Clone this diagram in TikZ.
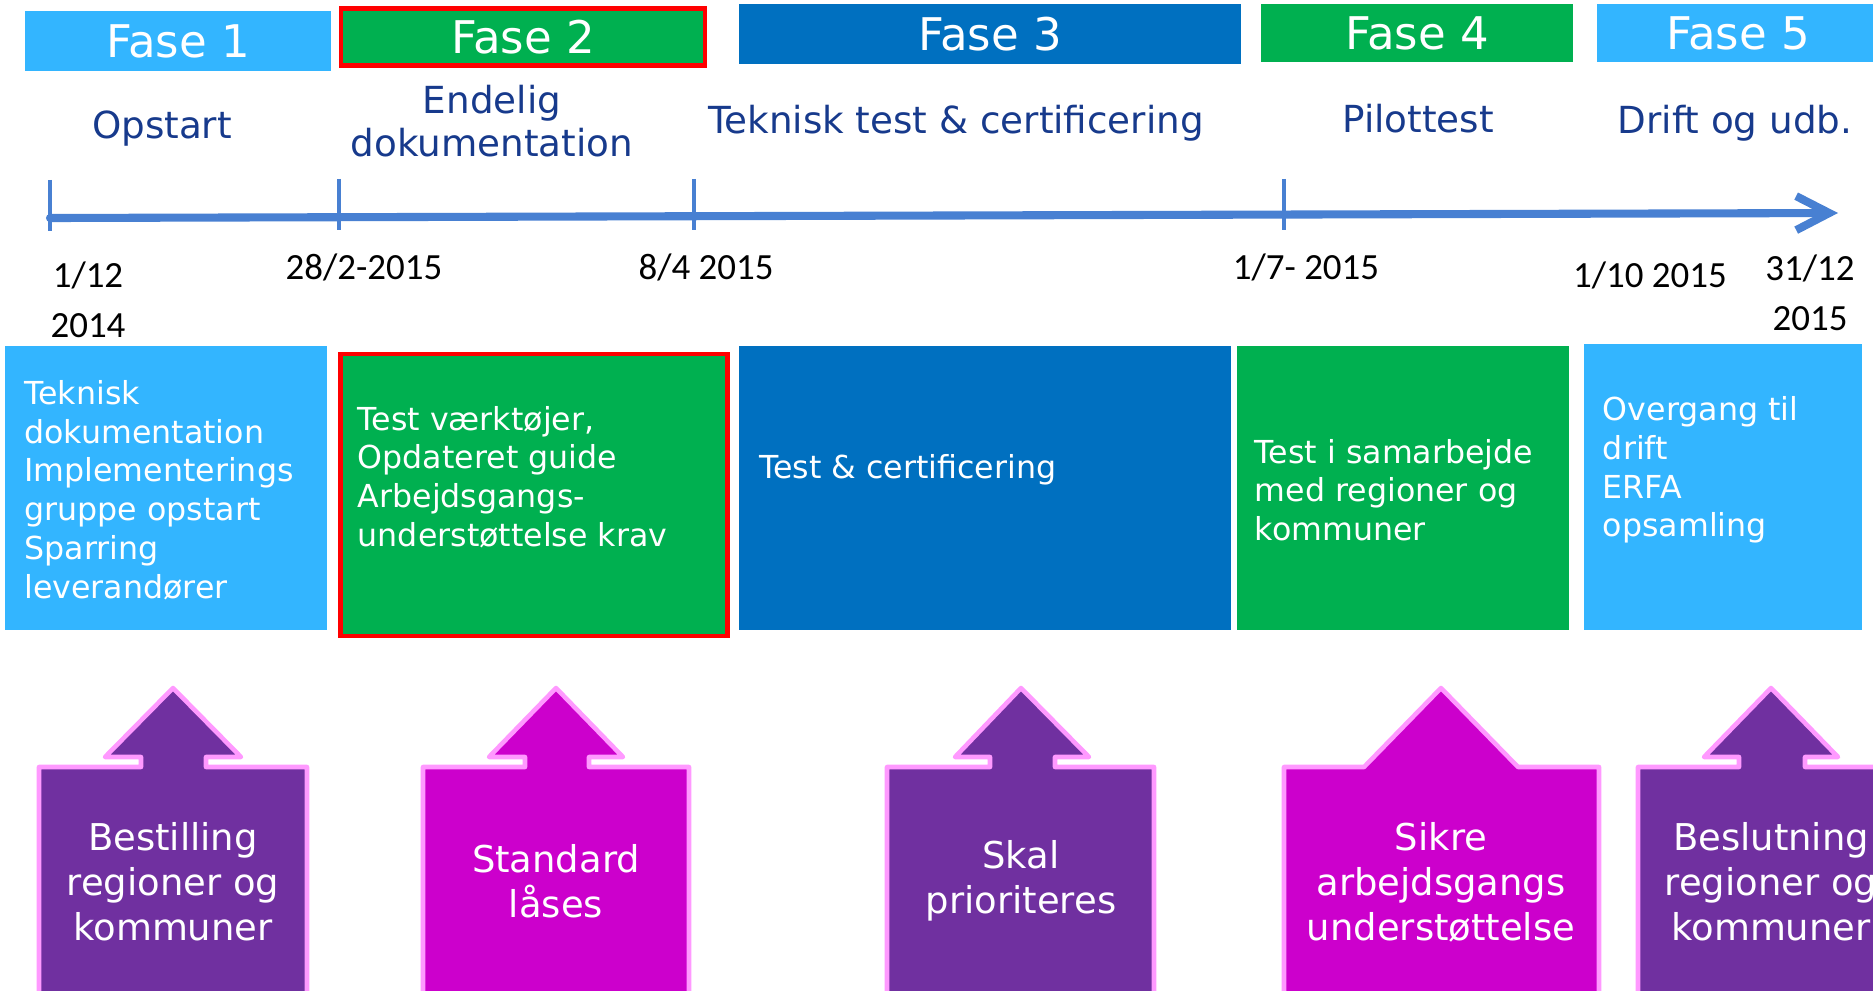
\documentclass[tikz,border=0pt]{standalone}
\usepackage{fontspec}
\setmainfont{DejaVu Sans}
\newfontfamily\datefont{Carlito}
\usetikzlibrary{arrows.meta}

\definecolor{lightblue}{RGB}{51,181,255}
\definecolor{fgreen}{RGB}{0,176,80}
\definecolor{darkblue}{RGB}{0,112,192}
\definecolor{navy}{RGB}{23,58,140}
\definecolor{axis}{RGB}{72,128,210}
\definecolor{purp}{RGB}{112,48,160}
\definecolor{magent}{RGB}{204,0,204}
\definecolor{pinkline}{RGB}{255,153,255}

\begin{document}
\begin{tikzpicture}[x=0.01cm, y=-0.01cm,
  fase/.style={minimum height=0.6cm, inner sep=0pt, text=white, font=\fontsize{12.8}{15}\selectfont},
  phase/.style={text=navy, align=center, font=\fontsize{10.6}{12.2}\selectfont},
  date/.style={align=center, font=\datefont\fontsize{10.5}{14.2}\selectfont},
  box/.style={minimum height=2.84cm, inner sep=0pt},
  boxtext/.style={anchor=west, align=left, text=white, inner sep=0pt, font=\fontsize{9}{11}\selectfont},
  upbox/.style={draw=pinkline, line width=1.3pt, line join=round},
  uptext/.style={align=center, text=white, font=\fontsize{10.5}{12.8}\selectfont},
  tick/.style={draw=axis, line width=1pt}]
\useasboundingbox (0,0) rectangle (1873,990);
\clip (0,0) rectangle (1873,990);
% Phases
\node[fase, fill=lightblue, minimum width=3.06cm] (f1) at (178,41) {Fase 1};
\node[fase, fill=fgreen, draw=red, line width=1.2pt, minimum width=3.64cm, minimum height=0.57cm] (f2) at (523,37) {Fase 2};
\node[fase, fill=darkblue, minimum width=5.01cm] (f3) at (990,34) {Fase 3};
\node[fase, fill=fgreen, minimum width=3.12cm, minimum height=0.58cm] (f4) at (1417,33) {Fase 4};
\node[fase, fill=lightblue, minimum width=2.82cm, minimum height=0.58cm] (f5) at (1738,33) {Fase 5};
\node[phase] (p1) at (162,129) {Opstart};
\node[phase] (p2) at (492,121) {Endelig\\dokumentation};
\node[phase] (p3) at (956,123) {Teknisk test \& certificering};
\node[phase] (p4) at (1418,119) {Pilottest};
\node[phase] (p5) at (1735,123) {Drift og udb.};
% Timeline
\coordinate (k1) at (50,218);
\coordinate (k2) at (339,217);
\coordinate (k3) at (694,216);
\coordinate (k4) at (1284,215);
\coordinate (kend) at (1838,213);
\draw[axis, line width=2.3pt, line cap=round, -{Straight Barb[length=3.3mm, width=3.4mm]}] (k1) -- (kend);
\draw[tick] ([yshift=0.38cm]k1) -- ([yshift=-0.13cm]k1);
\draw[tick] ([yshift=0.38cm]k2) -- ([yshift=-0.13cm]k2);
\draw[tick] ([yshift=0.37cm]k3) -- ([yshift=-0.14cm]k3);
\draw[tick] ([yshift=0.36cm]k4) -- ([yshift=-0.15cm]k4);
\node[date] (d1) at (88,300) {1/12\\2014};
\node[date] (d2) at (364,267) {28/2-2015};
\node[date] (d3) at (706,267) {8/4 2015};
\node[date] (d4) at (1306,267) {1/7- 2015};
\node[date] (d5) at (1650,275) {1/10 2015};
\node[date] (d6) at (1810,293) {31/12\\2015};
% Activities
\node[box, fill=lightblue, minimum width=3.21cm] (b1) at (166,488) {};
\node[box, fill=fgreen, draw=red, line width=1.3pt, minimum width=3.87cm, minimum height=2.82cm] (b2) at (534,495) {};
\node[box, fill=darkblue, minimum width=4.91cm] (b3) at (985,488) {};
\node[box, fill=fgreen, minimum width=3.32cm] (b4) at (1403,488) {};
\node[box, fill=lightblue, minimum width=2.78cm, minimum height=2.86cm] (b5) at (1723,487) {};
\node[boxtext] (t1) at ([xshift=0.19cm, yshift=-0.02cm]b1.west) {Teknisk\\dokumentation\\Implementerings\\gruppe opstart\\Sparring\\leverandører};
\node[boxtext] (t2) at ([xshift=0.19cm, yshift=0.18cm]b2.west) {Test værktøjer,\\Opdateret guide\\Arbejdsgangs-\\understøttelse krav};
\node[boxtext] (t3) at ([xshift=0.2cm, yshift=0.18cm]b3.west) {Test \& certificering};
\node[boxtext] (t4) at ([xshift=0.18cm, yshift=-0.02cm]b4.west) {Test i samarbejde\\med regioner og\\kommuner};
\node[boxtext] (t5) at ([xshift=0.19cm, yshift=0.17cm]b5.west) {Overgang til\\drift\\ERFA\\opsamling};
% Milestones
\filldraw[upbox, fill=purp] (39,1010) -- (39,767) -- (141,767) -- (141,757) -- (105,757) -- (173,688) -- (241,757) -- (206,757) -- (206,767) -- (307,767) -- (307,1010);
\filldraw[upbox, fill=magent] (423,1010) -- (423,767) -- (525,767) -- (525,757) -- (489,757) -- (556,688) -- (623,757) -- (589,757) -- (589,767) -- (689,767) -- (689,1010);
\filldraw[upbox, fill=purp] (887,1010) -- (887,767) -- (990,767) -- (990,757) -- (955,757) -- (1021,688) -- (1089,757) -- (1055,757) -- (1055,767) -- (1154,767) -- (1154,1010);
\filldraw[upbox, fill=magent] (1284,1010) -- (1284,767) -- (1364,767) -- (1441,688) -- (1518,767) -- (1599,767) -- (1599,1010);
\filldraw[upbox, fill=purp] (1638,1010) -- (1638,767) -- (1739,767) -- (1739,757) -- (1704,757) -- (1771,688) -- (1838,757) -- (1805,757) -- (1805,767) -- (1904,767) -- (1904,1010);
\node[uptext] (m1) at (173,882) {Bestilling\\regioner og\\kommuner};
\node[uptext] (m2) at (556,881) {Standard\\låses};
\node[uptext] (m3) at (1021,881) {Skal\\prioriteres};
\node[uptext] (m4) at (1441,882) {Sikre\\arbejdsgangs\\understøttelse};
\node[uptext] (m5) at (1771,882) {Beslutning\\regioner og\\kommuner};
\end{tikzpicture}
\end{document}
